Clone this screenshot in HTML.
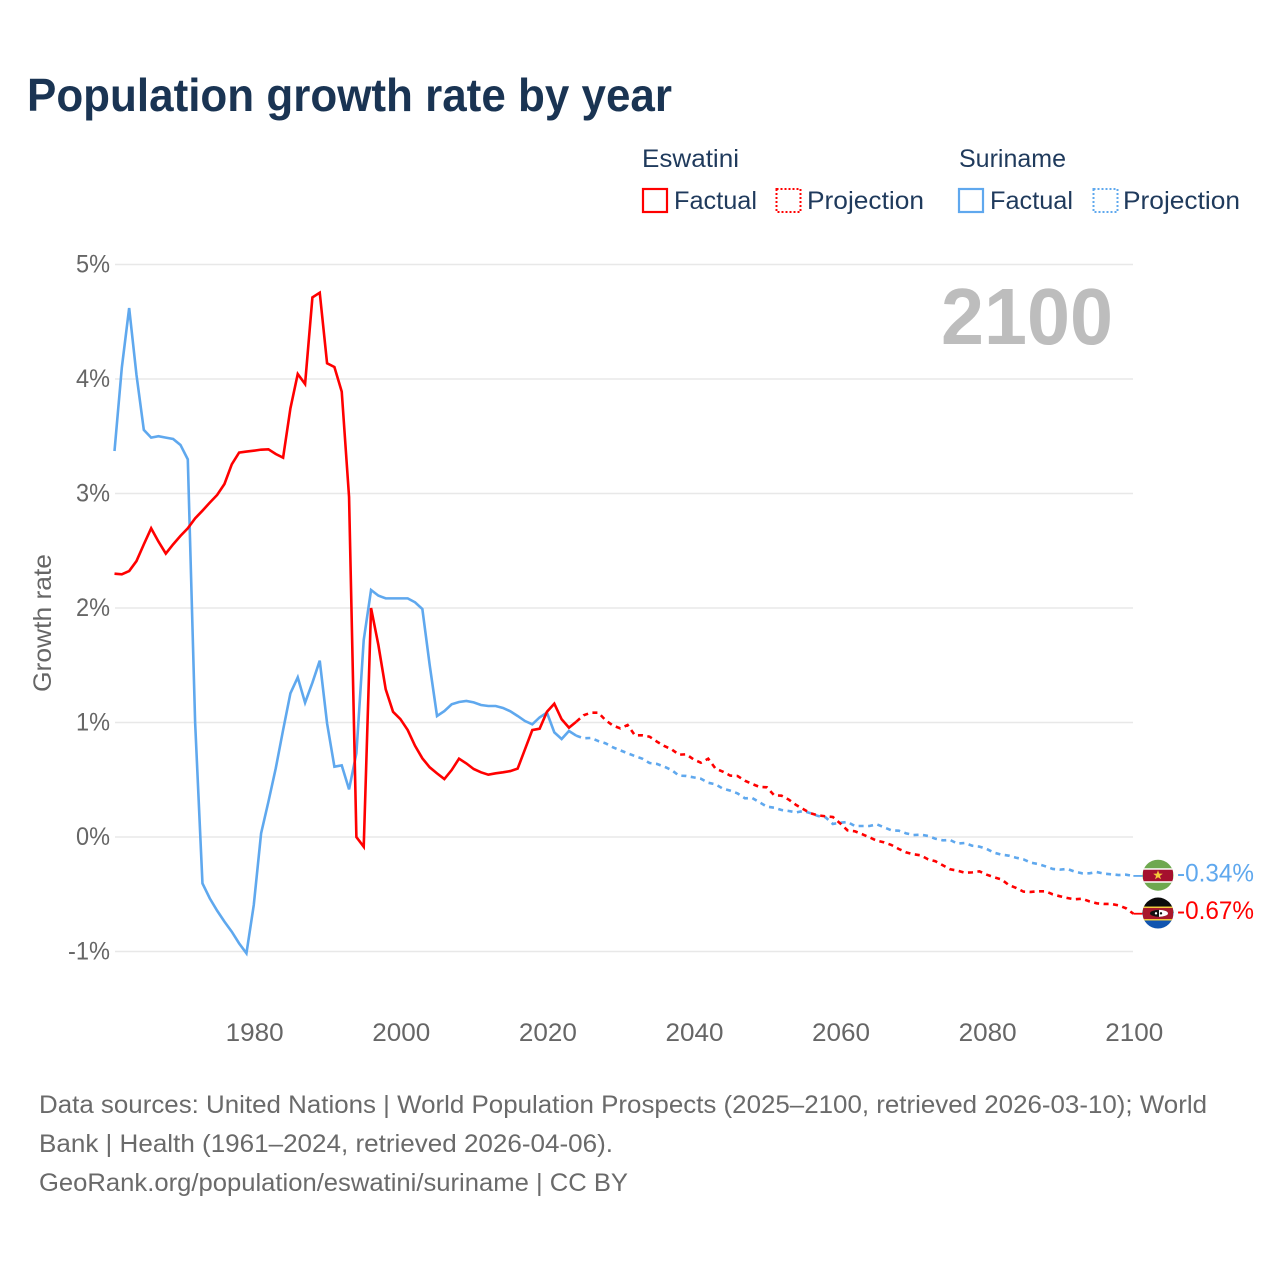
<!DOCTYPE html>
<html lang="en">
<head>
<meta charset="utf-8">
<title>Population growth rate by year</title>
<style>
html,body{margin:0;padding:0;background:#fff;}
svg{display:block;font-family:"Liberation Sans",Arial,sans-serif;}
</style>
</head>
<body>
<svg id="chart" xmlns="http://www.w3.org/2000/svg" width="1280" height="1280" viewBox="0 0 1280 1280">
  <rect width="1280" height="1280" fill="#ffffff"/>
  <text x="27" y="111" font-size="46" font-weight="700" fill="#1a3453" textLength="645" lengthAdjust="spacingAndGlyphs">Population growth rate by year</text>

  <g font-size="25" fill="#1f3a5c">
    <text x="642" y="167" textLength="97" lengthAdjust="spacingAndGlyphs">Eswatini</text>
    <text x="959" y="167" textLength="107" lengthAdjust="spacingAndGlyphs">Suriname</text>
    <rect x="643" y="189" width="24" height="23" fill="none" stroke="#ff0000" stroke-width="2.2"/>
    <text x="674" y="209" textLength="83" lengthAdjust="spacingAndGlyphs">Factual</text>
    <rect x="776.5" y="189" width="24" height="23" fill="none" stroke="#ff0000" stroke-width="2" stroke-dasharray="2 2"/>
    <text x="807" y="209" textLength="117" lengthAdjust="spacingAndGlyphs">Projection</text>
    <rect x="959" y="189" width="24" height="23" fill="none" stroke="#5fa8ee" stroke-width="2.2"/>
    <text x="990" y="209" textLength="83" lengthAdjust="spacingAndGlyphs">Factual</text>
    <rect x="1093.5" y="189" width="24" height="23" fill="none" stroke="#5fa8ee" stroke-width="2" stroke-dasharray="2 2"/>
    <text x="1123" y="209" textLength="117" lengthAdjust="spacingAndGlyphs">Projection</text>
  </g>

  <g id="grid"></g>
  <g id="y-ticks"></g>
  <g id="x-ticks"></g>

  <text transform="translate(51,623) rotate(-90)" text-anchor="middle" font-size="25" fill="#666666" textLength="138" lengthAdjust="spacingAndGlyphs">Growth rate</text>
  <text x="1113" y="344" text-anchor="end" font-size="80" font-weight="700" fill="#bdbdbd" textLength="172" lengthAdjust="spacingAndGlyphs">2100</text>

  <g id="series"></g>

  <g id="flag-suriname">
    <clipPath id="clip-sr"><circle cx="0" cy="0" r="15.5"/></clipPath>
    <g clip-path="url(#clip-sr)">
      <rect x="-16" y="-16" width="32" height="32" fill="#6ea84f"/>
      <rect x="-15" y="-7" width="30" height="14.5" fill="#ffffff"/>
      <rect x="-15" y="-5.5" width="30" height="11.5" fill="#a5102e"/>
      <polygon points="0,-5 1.2,-1.6 4.8,-1.5 1.9,0.6 3,4 0,2 -3,4 -1.9,0.6 -4.8,-1.5 -1.2,-1.6" fill="#f5c93b"/>
    </g>
  </g>
  <g id="flag-eswatini">
    <clipPath id="clip-sz"><circle cx="0" cy="0" r="15.5"/></clipPath>
    <g clip-path="url(#clip-sz)">
      <rect x="-16" y="-16" width="32" height="16" fill="#0b0b0b"/>
      <rect x="-16" y="0" width="32" height="16" fill="#1155b0"/>
      <rect x="-15" y="-6.5" width="30" height="14" fill="#f2cc3f"/>
      <rect x="-15" y="-5" width="30" height="11" fill="#a8182b"/>
      <ellipse cx="1" cy="0.3" rx="9" ry="3.5" fill="#111111"/>
      <path d="M1,-3.2 A9,3.5 0 0 1 1,3.8 Z" fill="#ffffff"/>
      <circle cx="3" cy="0.3" r="1.2" fill="#111111"/>
      <circle cx="-2" cy="0.3" r="1.2" fill="#ffffff"/>
    </g>
  </g>
  <text id="label-suriname" x="1254" text-anchor="end" font-size="25" fill="#5fa8ee" textLength="77" lengthAdjust="spacingAndGlyphs"></text>
  <text id="label-eswatini" x="1254" text-anchor="end" font-size="25" fill="#ff0000" textLength="77" lengthAdjust="spacingAndGlyphs"></text>

  <g font-size="25" fill="#6a6a6a">
    <text x="39" y="1113" textLength="1168" lengthAdjust="spacingAndGlyphs">Data sources: United Nations | World Population Prospects (2025–2100, retrieved 2026-03-10); World</text>
    <text x="39" y="1152" textLength="574" lengthAdjust="spacingAndGlyphs">Bank | Health (1961–2024, retrieved 2026-04-06).</text>
    <text x="39" y="1191" textLength="589" lengthAdjust="spacingAndGlyphs">GeoRank.org/population/eswatini/suriname | CC BY</text>
  </g>
</svg>
<script>
const yTickValues = [5, 4, 3, 2, 1, 0, -1];
const yTickLabels = ['5%', '4%', '3%', '2%', '1%', '0%', '-1%'];
const xTickValues = [1980, 2000, 2020, 2040, 2060, 2080, 2100];
const xTickLabels = ['1980', '2000', '2020', '2040', '2060', '2080', '2100'];

const factualStartYear = 1961;
const projectionStartYear = 2024;

const eswatiniFactual = [
  2.30, 2.294, 2.323, 2.41, 2.556, 2.696, 2.58, 2.475, 2.556, 2.63,
  2.696, 2.783, 2.85, 2.92, 2.987, 3.083, 3.255, 3.357, 3.366, 3.374,
  3.383, 3.386, 3.345, 3.313, 3.744, 4.044, 3.956, 4.713, 4.754, 4.137,
  4.105, 3.89, 2.97, 0.0, -0.085, 2.0, 1.677, 1.29, 1.094, 1.03,
  0.934, 0.797, 0.687, 0.609, 0.556, 0.506, 0.585, 0.684, 0.643, 0.594,
  0.565, 0.544, 0.556, 0.565, 0.576, 0.597, 0.766, 0.934, 0.946, 1.094,
  1.164, 1.028, 0.955, 1.007
];
const eswatiniProjection = [
  1.007, 1.063, 1.086, 1.086, 1.02, 0.973, 0.949, 0.978, 0.888, 0.888,
  0.876, 0.833, 0.795, 0.766, 0.719, 0.722, 0.678, 0.649, 0.684, 0.597,
  0.571, 0.536, 0.533, 0.492, 0.463, 0.437, 0.434, 0.364, 0.361, 0.326,
  0.279, 0.242, 0.207, 0.189, 0.181, 0.175, 0.119, 0.058, 0.05, 0.025,
  -0.003, -0.032, -0.047, -0.07, -0.105, -0.134, -0.151, -0.16, -0.195, -0.212,
  -0.247, -0.282, -0.294, -0.312, -0.309, -0.30, -0.329, -0.352, -0.37, -0.419,
  -0.445, -0.477, -0.48, -0.474, -0.474, -0.501, -0.518, -0.533, -0.544, -0.539,
  -0.562, -0.579, -0.585, -0.585, -0.597, -0.623, -0.67
];
const surinameFactual = [
  3.371, 4.10, 4.62, 4.035, 3.555, 3.488, 3.50, 3.488, 3.476, 3.424,
  3.298, 1.0, -0.405, -0.536, -0.643, -0.739, -0.827, -0.929, -1.016, -0.594,
  0.032, 0.309, 0.60, 0.934, 1.255, 1.394, 1.173, 1.348, 1.54, 0.993,
  0.614, 0.626, 0.416, 0.731, 1.72, 2.157, 2.108, 2.084, 2.084, 2.084,
  2.084, 2.05, 1.991, 1.502, 1.057, 1.10, 1.159, 1.179, 1.188, 1.176,
  1.153, 1.144, 1.144, 1.127, 1.098, 1.057, 1.013, 0.984, 1.045, 1.086,
  0.914, 0.856, 0.926, 0.885
];
const surinameProjection = [
  0.885, 0.862, 0.865, 0.838, 0.818, 0.783, 0.757, 0.731, 0.707, 0.684,
  0.646, 0.638, 0.614, 0.585, 0.536, 0.533, 0.521, 0.509, 0.474, 0.46,
  0.422, 0.405, 0.381, 0.338, 0.341, 0.303, 0.265, 0.256, 0.236, 0.227,
  0.215, 0.227, 0.207, 0.183, 0.172, 0.114, 0.125, 0.131, 0.096, 0.096,
  0.096, 0.111, 0.084, 0.058, 0.055, 0.032, 0.017, 0.02, 0.009, -0.015,
  -0.029, -0.026, -0.058, -0.052, -0.076, -0.084, -0.105, -0.137, -0.154, -0.163,
  -0.181, -0.195, -0.224, -0.236, -0.256, -0.279, -0.285, -0.279, -0.303, -0.317,
  -0.317, -0.306, -0.32, -0.326, -0.332, -0.329, -0.34
];

const SVG_NS = 'http://www.w3.org/2000/svg';
const RED = '#ff0000';
const BLUE = '#5fa8ee';

function xScale(year) { return 114.5 + (year - 1961) * 7.33; }
function yScale(value) { return 837 - value * 114.5; }

function linePath(values, startYear) {
  return values.map(function (v, i) {
    return (i ? 'L' : 'M') + xScale(startYear + i).toFixed(2) + ' ' + yScale(v).toFixed(2);
  }).join(' ');
}

const gridGroup = document.getElementById('grid');
const yTickGroup = document.getElementById('y-ticks');
const xTickGroup = document.getElementById('x-ticks');
const seriesGroup = document.getElementById('series');

yTickValues.forEach(function (value, i) {
  const gridLine = document.createElementNS(SVG_NS, 'line');
  
  
  gridLine.setAttribute('x1', 115);
  gridLine.setAttribute('x2', 1133);
  gridLine.setAttribute('y1', yScale(value));
  gridLine.setAttribute('y2', yScale(value));
  gridLine.setAttribute('stroke', '#e8e8e8');
  gridLine.setAttribute('stroke-width', 1.4);
  gridGroup.appendChild(gridLine);

  const label = document.createElementNS(SVG_NS, 'text');
  
  
  label.setAttribute('x', 110);
  label.setAttribute('y', yScale(value) + 8);
  label.setAttribute('text-anchor', 'end');
  label.setAttribute('font-size', 25);
  label.setAttribute('fill', '#666666');
  label.setAttribute('textLength', yTickLabels[i].length > 2 ? 42 : 34);
  label.setAttribute('lengthAdjust', 'spacingAndGlyphs');
  label.textContent = yTickLabels[i];
  yTickGroup.appendChild(label);
});

xTickValues.forEach(function (year, i) {
  const label = document.createElementNS(SVG_NS, 'text');
  
  
  label.setAttribute('x', xScale(year) + 0.9);
  label.setAttribute('y', 1041);
  label.setAttribute('text-anchor', 'middle');
  label.setAttribute('font-size', 25);
  label.setAttribute('fill', '#666666');
  label.setAttribute('textLength', 58);
  label.setAttribute('lengthAdjust', 'spacingAndGlyphs');
  label.textContent = xTickLabels[i];
  xTickGroup.appendChild(label);
});

function addSeries(name, values, startYear, color, dashed) {
  const path = document.createElementNS(SVG_NS, 'path');
  
  
  path.setAttribute('d', linePath(values, startYear));
  path.setAttribute('fill', 'none');
  path.setAttribute('stroke', color);
  path.setAttribute('stroke-width', 2.6);
  path.setAttribute('stroke-linejoin', 'miter');
  if (dashed) {
    path.setAttribute('stroke-dasharray', '5 4.5');
  }
  seriesGroup.appendChild(path);
}

addSeries('line-suriname-factual', surinameFactual, factualStartYear, BLUE, false);
addSeries('line-suriname-projection', surinameProjection, projectionStartYear, BLUE, true);
addSeries('line-eswatini-factual', eswatiniFactual, factualStartYear, RED, false);
addSeries('line-eswatini-projection', eswatiniProjection, projectionStartYear, RED, true);

function addEnd(country, values, color) {
  const last = values[values.length - 1];
  const lastY = yScale(last);
  const connector = document.createElementNS(SVG_NS, 'line');
  
  
  connector.setAttribute('x1', xScale(2100));
  connector.setAttribute('x2', 1144);
  connector.setAttribute('y1', lastY);
  connector.setAttribute('y2', lastY);
  connector.setAttribute('stroke', color);
  connector.setAttribute('stroke-width', 1.8);
  seriesGroup.appendChild(connector);

  document.getElementById('flag-' + country).setAttribute('transform', 'translate(1158,' + (lastY - 0.7) + ')');
  const label = document.getElementById('label-' + country);
  label.setAttribute('y', lastY + 5.5);
  label.textContent = last.toFixed(2) + '%';
}

addEnd('suriname', surinameProjection, BLUE);
addEnd('eswatini', eswatiniProjection, RED);
</script>
</body>
</html>
